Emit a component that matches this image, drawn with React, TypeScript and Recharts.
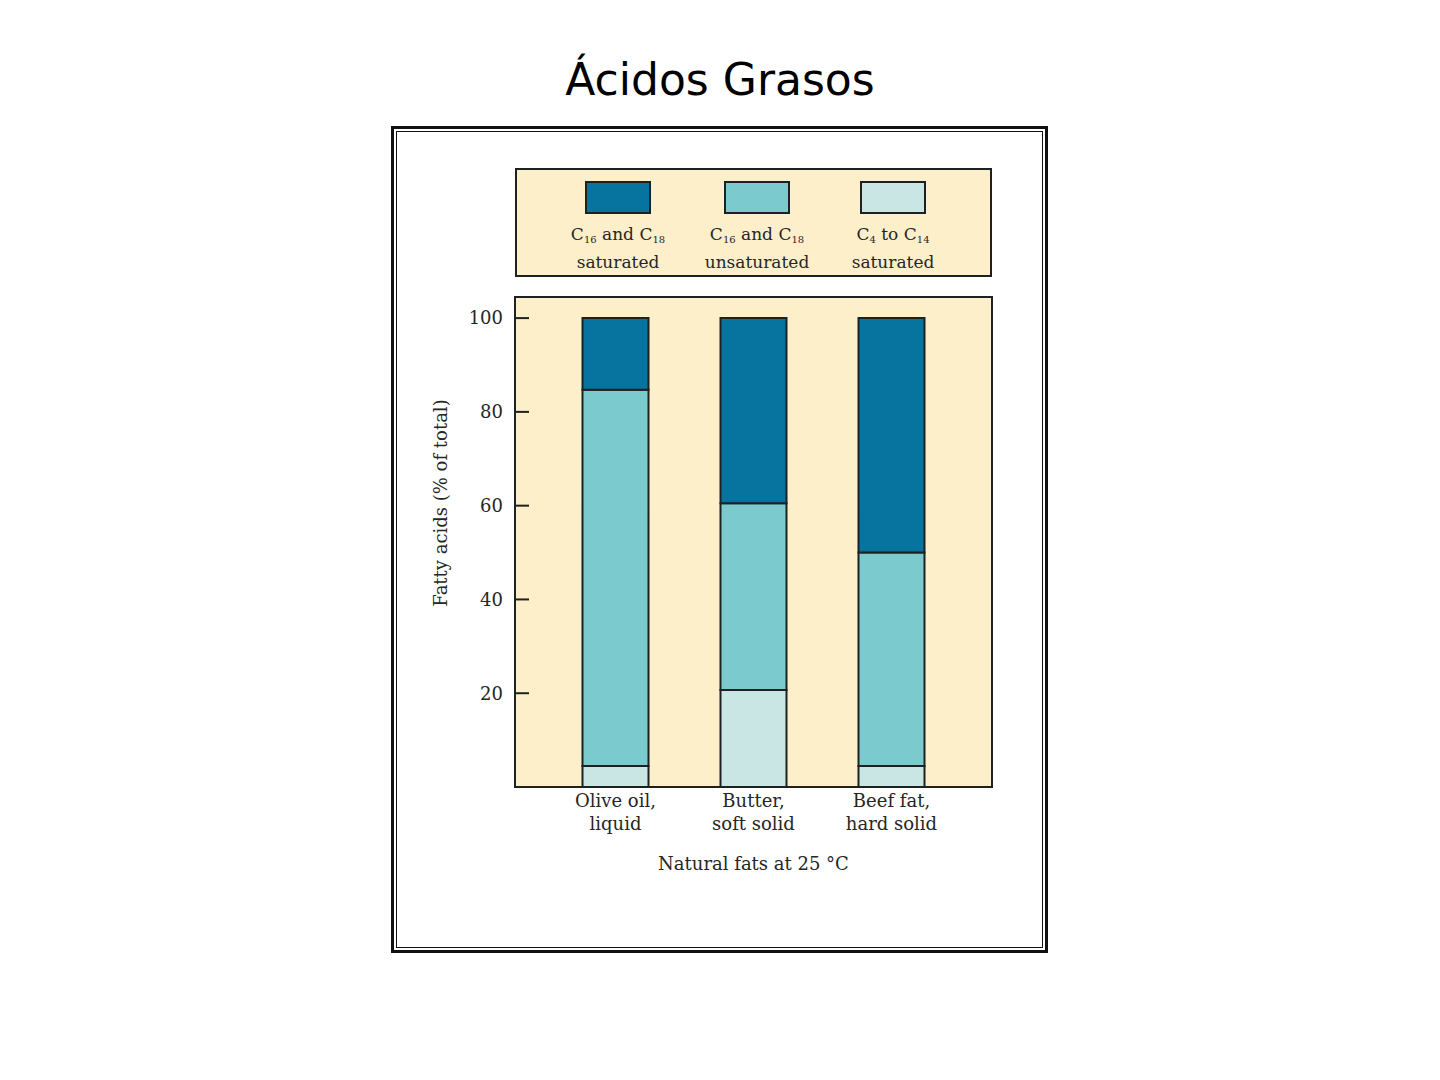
import React from 'react';
import { BarChart, Bar, XAxis, YAxis, CartesianGrid, Legend } from 'recharts';

// ---- data ----
const categories = ['Olive oil,', 'Butter,', 'Beef fat,'];
const categoryStates = ['liquid', 'soft solid', 'hard solid'];
const shortSaturated = [4.5, 20.7, 4.5]; // C4 to C14 saturated
const longUnsaturated = [80.2, 39.8, 45.5]; // C16 and C18 unsaturated
const longSaturated = [15.3, 39.5, 50.0]; // C16 and C18 saturated
const yTicks = [20, 40, 60, 80, 100];

const legendItems = [
  { key: 'sat', a: '16', b: ' and C', c: '18', line2: 'saturated', color: '#07739F' },
  { key: 'unsat', a: '16', b: ' and C', c: '18', line2: 'unsaturated', color: '#7BCBCE' },
  { key: 'short', a: '4', b: ' to C', c: '14', line2: 'saturated', color: '#C9E6E5' },
];

const data = categories.map((name, i) => ({
  name,
  state: categoryStates[i],
  short: shortSaturated[i],
  unsat: longUnsaturated[i],
  sat: longSaturated[i],
}));

const INK = '#262626';
const FRAME = '#1c2222';
const BG = '#FEEFCB';
const SERIF = '"DejaVu Serif", serif';

const XTick = (props: any) => {
  const { x, y, payload } = props;
  const idx = categories.indexOf(payload.value);
  return (
    <text x={x} y={y} textAnchor="middle" fill={INK} fontFamily={SERIF} fontSize={18}>
      <tspan x={x} dy={20}>{payload.value}</tspan>
      <tspan x={x} dy={23}>{categoryStates[idx]}</tspan>
    </text>
  );
};

const LegendBox = () => (
  <div
    style={{
      position: 'relative',
      width: 477,
      height: 109,
      boxSizing: 'border-box',
      background: BG,
      border: `2px solid ${FRAME}`,
      fontFamily: SERIF,
      fontSize: 17,
      color: INK,
    }}
  >
    {legendItems.map((it, i) => {
      const cx = [101, 240, 376][i];
      return (
        <div key={it.key} style={{ position: 'absolute', left: cx - 70, top: 11, width: 140, textAlign: 'center' }}>
          <div
            style={{
              width: 66,
              height: 33,
              margin: '0 auto',
              boxSizing: 'border-box',
              background: it.color,
              border: `2px solid ${FRAME}`,
            }}
          />
          <div style={{ marginTop: 9, lineHeight: '22px', whiteSpace: 'nowrap' }}>
            C<sub style={{ fontSize: 10, verticalAlign: -3 }}>{it.a}</sub>
            {it.b}
            <sub style={{ fontSize: 10, verticalAlign: -3 }}>{it.c}</sub>
          </div>
          <div style={{ lineHeight: '22px' }}>{it.line2}</div>
        </div>
      );
    })}
  </div>
);

export default function App() {
  return (
    <div style={{ position: 'absolute', left: 0, top: 0, width: 1440, height: 1080, background: '#fff' }}>
      <div
        style={{
          position: 'absolute',
          left: 0,
          width: 1440,
          top: 52,
          textAlign: 'center',
          fontFamily: '"DejaVu Sans", sans-serif',
          fontSize: 44,
          lineHeight: '56px',
          color: '#000',
        }}
      >
        Ácidos Grasos
      </div>
      {/* double frame */}
      <div
        style={{
          position: 'absolute',
          left: 391,
          top: 126,
          width: 657,
          height: 827,
          boxSizing: 'border-box',
          border: '3px solid #111',
        }}
      />
      <div
        style={{
          position: 'absolute',
          left: 396,
          top: 131,
          width: 647,
          height: 817,
          boxSizing: 'border-box',
          border: '1.5px solid #111',
        }}
      />
      <div style={{ position: 'absolute', left: 391, top: 126 }}>
        <BarChart
          width={657}
          height={827}
          data={data}
          margin={{ top: 171, right: 56, left: 64, bottom: 76 }}
          barSize={66}
        >
          <CartesianGrid horizontal={false} vertical={false} fill={BG} />
          <Legend
            layout="horizontal"
            verticalAlign="middle"
            align="center"
            wrapperStyle={{ top: 42, left: 124, width: 477, height: 109 }}
            content={() => <LegendBox />}
          />
          <XAxis
            dataKey="name"
            tick={<XTick />}
            tickLine={false}
            tickSize={0}
            tickMargin={0}
            height={90}
            padding={{ left: 31.5, right: 31.5 }}
            axisLine={{ stroke: FRAME, strokeWidth: 2 }}
            interval={0}
            label={(p: any) => {
              const vb = p.viewBox;
              return (
                <text
                  x={vb.x + vb.width / 2}
                  y={vb.y + 83}
                  textAnchor="middle"
                  fill={INK}
                  fontFamily={SERIF}
                  fontSize={18}
                >
                  Natural fats at 25 °C
                </text>
              );
            }}
          />
          <YAxis
            domain={[0, 104.5]}
            ticks={yTicks}
            type="number"
            width={60}
            tickSize={-14}
            tickMargin={26}
            tickLine={{ stroke: FRAME, strokeWidth: 2 }}
            axisLine={{ stroke: FRAME, strokeWidth: 2 }}
            tick={{ fill: INK, fontFamily: SERIF, fontSize: 18 }}
            allowDataOverflow
            label={(p: any) => {
              const vb = p.viewBox;
              const cx = vb.x - 15;
              const cy = vb.y + 206;
              return (
                <text
                  x={cx}
                  y={cy}
                  transform={`rotate(-90 ${cx} ${cy})`}
                  textAnchor="middle"
                  dominantBaseline="central"
                  fill={INK}
                  fontFamily={SERIF}
                  fontSize={18}
                >
                  Fatty acids (% of total)
                </text>
              );
            }}
          />
          <Bar dataKey="short" stackId="s" fill="#C9E6E5" stroke={FRAME} strokeWidth={2} isAnimationActive={false} />
          <Bar dataKey="unsat" stackId="s" fill="#7BCBCE" stroke={FRAME} strokeWidth={2} isAnimationActive={false} />
          <Bar dataKey="sat" stackId="s" fill="#07739F" stroke={FRAME} strokeWidth={2} isAnimationActive={false} />
        </BarChart>
      </div>
      {/* plot-area outline */}
      <div
        style={{
          position: 'absolute',
          left: 514,
          top: 296,
          width: 479,
          height: 492,
          boxSizing: 'border-box',
          border: `2px solid ${FRAME}`,
          pointerEvents: 'none',
        }}
      />
    </div>
  );
}
